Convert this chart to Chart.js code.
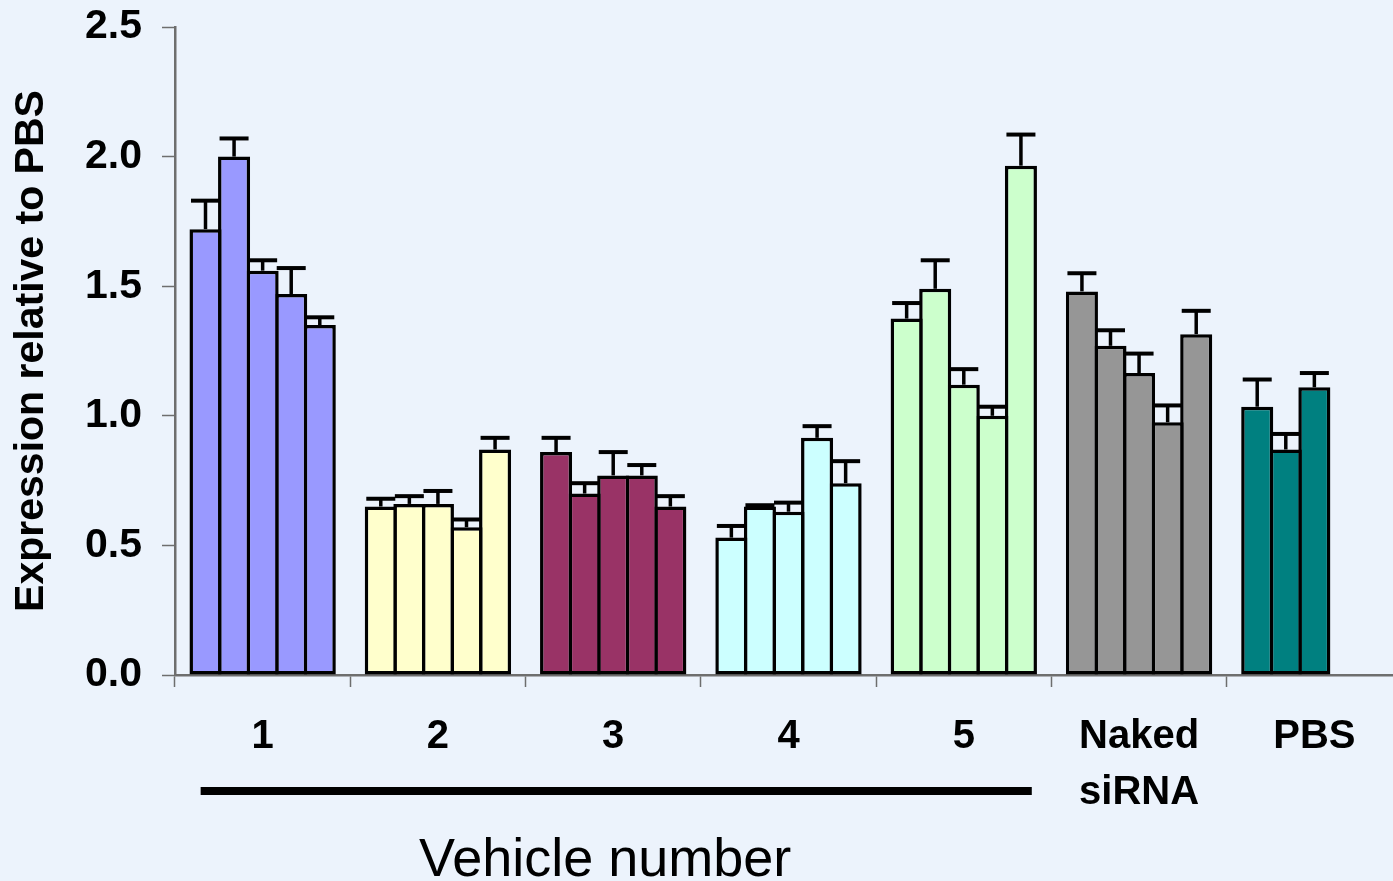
<!DOCTYPE html>
<html>
<head>
<meta charset="utf-8">
<title>Expression relative to PBS</title>
<script src="https://cdn.jsdelivr.net/npm/chart.js@4.4.1/dist/chart.umd.min.js"></script>
<style>
  html, body { margin: 0; padding: 0; overflow: hidden; background: #ECF3FC; }
  #wrap { position: relative; width: 1404px; height: 881px; }
</style>
</head>
<body>
<div id="wrap"><canvas id="chart"></canvas></div>
<script>
// Vehicle groups along the x axis
const categories = ['1', '2', '3', '4', '5', ['Naked', 'siRNA'], 'PBS'];

// Five bars per group (PBS has three)
const series1 = [1.72, 0.65, 0.86, 0.53, 1.375, 1.48, 1.035];
const series2 = [2.00, 0.66, 0.70, 0.65, 1.49, 1.27, 0.87];
const series3 = [1.56, 0.66, 0.77, 0.63, 1.12, 1.165, 1.11];
const series4 = [1.47, 0.57, 0.77, 0.915, 1.00, 0.975, null];
const series5 = [1.35, 0.87, 0.65, 0.74, 1.965, 1.315, null];

// Upper error (SD) for each bar
const error1 = [0.11, 0.03, 0.055, 0.045, 0.06, 0.07, 0.105];
const error2 = [0.07, 0.03, 0.04, 0.005, 0.11, 0.06, 0.06];
const error3 = [0.04, 0.05, 0.09, 0.035, 0.06, 0.075, 0.055];
const error4 = [0.10, 0.03, 0.04, 0.045, 0.035, 0.065, null];
const error5 = [0.03, 0.045, 0.04, 0.085, 0.12, 0.09, null];

// y axis ticks
const yTicks = [0, 0.5, 1.0, 1.5, 2.0, 2.5];

// One fill colour per group
const groupColors = ['#9999FF', '#FFFFCC', '#993366', '#CCFFFF', '#CCFFCC', '#969696', '#008080'];

const allSeries = [series1, series2, series3, series4, series5];
const allErrors = [error1, error2, error3, error4, error5];

const FONT = '"Liberation Sans", Arial, Helvetica, sans-serif';
const AXIS_GREY = '#6E6E6E';

const datasets = allSeries.map((values, i) => ({
  label: 'Series ' + (i + 1),
  data: values,
  errors: allErrors[i],
  backgroundColor: groupColors,
  borderColor: '#000000',
  borderWidth: 3.5,
  borderSkipped: false,
  categoryPercentage: 0.815,
  barPercentage: 1.122
}));

// Upper whiskers with caps
const errorBars = {
  id: 'errorBars',
  afterDatasetsDraw(chart) {
    const ctx = chart.ctx;
    const y = chart.scales.y;
    ctx.save();
    ctx.strokeStyle = '#000000';
    ctx.lineCap = 'butt';
    chart.data.datasets.forEach((ds, di) => {
      const meta = chart.getDatasetMeta(di);
      meta.data.forEach((bar, j) => {
        const v = ds.data[j];
        const e = ds.errors[j];
        if (v == null || e == null) return;
        const top = y.getPixelForValue(v + e);
        ctx.lineWidth = 3.5;
        ctx.beginPath();
        ctx.moveTo(bar.x, bar.y);
        ctx.lineTo(bar.x, top);
        ctx.stroke();
        ctx.lineWidth = 4;
        ctx.beginPath();
        ctx.moveTo(bar.x - 14.5, top);
        ctx.lineTo(bar.x + 14.5, top);
        ctx.stroke();
      });
    });
    ctx.restore();
  }
};

// Page background, bracket line under vehicles 1-5 and its caption
const decorations = {
  id: 'decorations',
  beforeDraw(chart) {
    const ctx = chart.ctx;
    ctx.save();
    ctx.fillStyle = '#ECF3FC';
    ctx.fillRect(0, 0, chart.width, chart.height);
    ctx.restore();
  },
  afterDraw(chart) {
    const ctx = chart.ctx;
    const x = chart.scales.x;
    const left = x.getPixelForValue(0) - 62;
    const right = x.getPixelForValue(4) + 68;
    ctx.save();
    ctx.fillStyle = '#000000';
    ctx.fillRect(left, 787, right - left, 8);
    ctx.font = '54px ' + FONT;
    ctx.textAlign = 'center';
    ctx.textBaseline = 'alphabetic';
    ctx.fillText('Vehicle number', (left + right) / 2 - 11, 876);
    ctx.restore();
  }
};

new Chart(document.getElementById('chart'), {
  type: 'bar',
  data: { labels: categories, datasets },
  options: {
    responsive: true,
    maintainAspectRatio: false,
    animation: false,
    devicePixelRatio: 1,
    layout: { padding: { left: 0, right: 2, top: 27, bottom: 0 } },
    plugins: {
      legend: { display: false },
      tooltip: { enabled: false }
    },
    scales: {
      x: {
        offset: true,
        grid: {
          display: true,
          offset: true,
          drawOnChartArea: false,
          drawTicks: true,
          tickLength: 12,
          tickWidth: 1.5,
          tickColor: AXIS_GREY
        },
        border: { display: true, color: AXIS_GREY, width: 2.5 },
        ticks: {
          color: '#000000',
          font: { family: FONT, size: 40, weight: 'bold', lineHeight: 1.4 },
          padding: 22,
          maxRotation: 0,
          autoSkip: false
        },
        afterFit(scale) { scale.height = 881 - 675; }
      },
      y: {
        min: 0,
        max: 2.5,
        afterBuildTicks(scale) { scale.ticks = yTicks.map(v => ({ value: v })); },
        grid: {
          display: true,
          drawOnChartArea: false,
          drawTicks: true,
          tickLength: 13,
          tickWidth: 1.5,
          tickColor: AXIS_GREY
        },
        border: { display: true, color: AXIS_GREY, width: 2.5 },
        ticks: {
          color: '#000000',
          font: { family: FONT, size: 41, weight: 'bold' },
          padding: 20,
          callback: v => Number(v).toFixed(1)
        },
        title: {
          display: true,
          text: 'Expression relative to PBS',
          color: '#000000',
          font: { family: FONT, size: 41, weight: 'bold', lineHeight: 1.2 },
          padding: { top: 7, bottom: 0 }
        },
        afterFit(scale) {
          scale.width = 175;
          scale.paddingTop = 0;
          scale.paddingBottom = 0;
        }
      }
    }
  },
  plugins: [errorBars, decorations]
});
</script>
</body>
</html>
